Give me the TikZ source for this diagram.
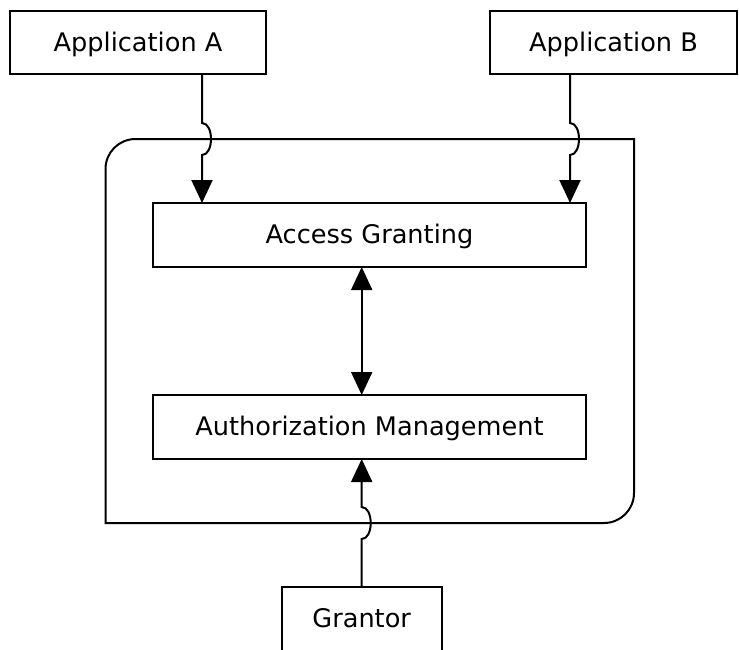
\documentclass[tikz,border=0pt]{standalone}
\usepackage{fontspec}
\setmainfont{DejaVu Sans}
\usetikzlibrary{arrows.meta}
\tikzset{
  blk/.style={draw, line width=2pt, rectangle, inner sep=0pt, outer sep=0pt,
    font=\fontsize{25.6pt}{30pt}\selectfont, text height=18.7pt, text depth=1.5pt},
  conn/.style={line width=2pt},
  tip/.style={-{Triangle[width=21pt,length=23pt]}},
  dtip/.style={{Triangle[width=21pt,length=23pt]}-{Triangle[width=21pt,length=23pt]}},
}
\begin{document}
\begin{tikzpicture}[x=1pt,y=-1pt]
\useasboundingbox (0,0) rectangle (739,649);
% container
\draw[conn] (105.5,523) -- (105.5,169) .. controls (105.5,152.4) and (118.9,139) .. (135.5,139)
  -- (634,139) -- (634,493) .. controls (634,509.6) and (620.6,523) .. (604,523) -- cycle;
% boxes
\node[blk, minimum width=256pt, minimum height=63pt] (appA) at (138,42.5) {Application A};
\node[blk, minimum width=247pt, minimum height=63pt] (appB) at (613.5,42.5) {Application B};
\node[blk, minimum width=433pt, minimum height=64pt] (ag) at (369.5,235) {Access Granting};
\node[blk, minimum width=433pt, minimum height=64pt] (am) at (369.5,427) {Authorization Management};
\node[blk, minimum width=160pt, minimum height=64pt] (gr) at (361.7,618.7) {Grantor};
% connector endpoints
\coordinate (aA) at ([xshift=49pt]ag.north west);
\coordinate (aB) at ([xshift=-16pt]ag.north east);
% connectors
\draw[conn,tip] (appA.south -| aA) -- (202,123) .. controls (214,123) and (214,155) .. (202,155) -- (aA);
\draw[conn,tip] (appB.south -| aB) -- (570,123) .. controls (582,123) and (582,155) .. (570,155) -- (aB);
\draw[conn,dtip] (ag.south -| gr.north) -- (am.north -| gr.north);
\draw[conn,tip] (gr.north) -- (361.7,539) .. controls (373.7,539) and (373.7,507) .. (361.7,507) -- (am.south -| gr.north);
\end{tikzpicture}
\end{document}
